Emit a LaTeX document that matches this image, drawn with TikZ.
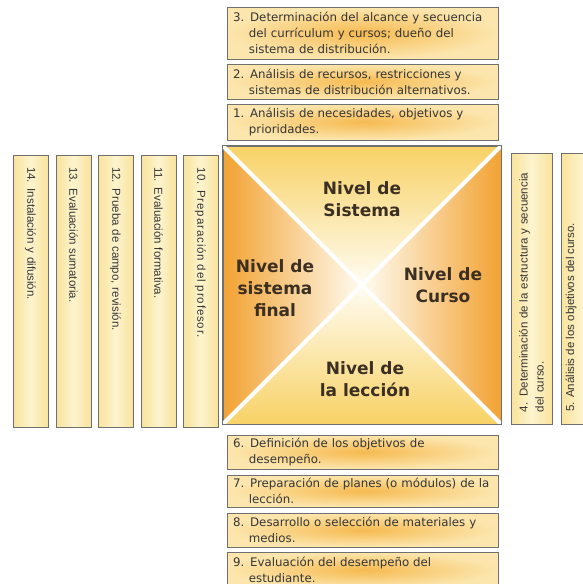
\documentclass[tikz,border=0pt]{standalone}
\usepackage{fontspec}
\setmainfont{DejaVu Sans}
\newfontfamily\arialf{Liberation Sans}
\newfontfamily\arialsp[LetterSpace=7.5]{Liberation Sans}
\definecolor{boxgray}{HTML}{707070}
\definecolor{hinner}{HTML}{F6BA50}
\definecolor{houter}{HTML}{FCE6AE}
\definecolor{vside}{HTML}{F9E39C}
\definecolor{vmid}{HTML}{FDF4CF}
\definecolor{txtgray}{HTML}{353535}
\definecolor{lvltxt}{HTML}{3A2F22}
\definecolor{sqyel}{HTML}{F8D266}
\definecolor{sqorg}{HTML}{F2A232}
\definecolor{sqctr}{HTML}{FFFCF2}
\newcommand\ind{\hspace*{1.35em}}
\begin{document}
\begin{tikzpicture}[x=1pt,y=-1pt,
  hbox/.style={draw=boxgray, line width=0.8pt, inner color=hinner, outer color=houter,
    text width=259pt, inner xsep=6pt, inner ysep=0pt, align=left,
    font=\fontsize{11.8}{16}\selectfont, text=txtgray},
  vbox/.style={draw=boxgray, line width=0.8pt, left color=vside, right color=vside, middle color=vmid,
    font=\arialf\fontsize{11.5}{16}\selectfont, text=txtgray, align=left,
    inner xsep=12pt, inner ysep=0pt},
  lbox/.style={vbox, rotate=-90, minimum height=35pt, text width=248pt},
  lvl/.style={font=\bfseries\fontsize{17}{22}\selectfont, text=lvltxt, align=center}]
\clip (0,0) rectangle (583,584);
\fill[white] (0,0) rectangle (583,584);

% top boxes
\node (b3) [hbox, minimum height=52pt] at (362.5,33) {3. Determinación del alcance y secuencia\\\ind del currículum y cursos; dueño del\\\ind sistema de distribución.};
\node (b2) [hbox, minimum height=35pt] at (362.5,81.5) {2. Análisis de recursos, restricciones y\\\ind sistemas de distribución alternativos.};
\node (b1) [hbox, minimum height=36pt] at (362.5,122) {1. Análisis de necesidades, objetivos y\\\ind prioridades.};

% bottom boxes
\node (b6) [hbox, minimum height=34pt] at (362.5,452) {6. Definición de los objetivos de\\\ind desempeño.};
\node (b7) [hbox, minimum height=32pt] at (362.5,491) {7. Preparación de planes (o módulos) de la\\\ind lección.};
\node (b8) [hbox, minimum height=34pt] at (362.5,530) {8. Desarrollo o selección de materiales y\\\ind medios.};
\node (b9) [hbox, minimum height=36pt] at (362.5,570) {9. Evaluación del desempeño del\\\ind estudiante.};

% left boxes
\node (b14) [lbox] at (30.5,291) {14. Instalación y difusión.};
\node (b13) [lbox] at (73.5,291) {13. Evaluación sumatoria.};
\node (b12) [lbox] at (115.5,291) {12. Prueba de campo, revisión.};
\node (b11) [lbox] at (158.5,291) {11. Evaluación formativa.};
\node (b10) [lbox, font=\arialsp\fontsize{11.5}{16}\selectfont] at (200.5,291) {10. Preparación del profesor.};

% right boxes
\node (b4) [vbox, rotate=90, minimum width=271pt, minimum height=41pt, text width=247pt] at (531.5,288.5) {4. Determinación de la estructura y secuencia\\del curso.};
\node (b5) [vbox, rotate=90, minimum width=271pt, minimum height=44pt] at (583,288.5) {};
\node (t5) [font=\arialf\fontsize{11.5}{16}\selectfont, text=txtgray, rotate=90, anchor=west, inner sep=0pt] at (571,412) {5. Análisis de los objetivos del curso.};

% central square
\coordinate (nw) at (223,146);
\coordinate (ne) at (501,146);
\coordinate (se) at (501,424);
\coordinate (sw) at (223,424);
\coordinate (c) at (362,285);
\shade[top color=sqyel, bottom color=sqctr] (nw) -- (ne) -- (c) -- cycle;
\shade[bottom color=sqyel, top color=sqctr] (sw) -- (se) -- (c) -- cycle;
\shade[left color=sqorg, right color=sqctr] (nw) -- (sw) -- (c) -- cycle;
\shade[right color=sqorg, left color=sqctr] (ne) -- (se) -- (c) -- cycle;
\node (sq) [draw=boxgray, line width=0.9pt, minimum size=278pt, inner sep=0pt] at (c) {};
\draw[white, line width=4pt] (sq.north west) -- (sq.south east);
\draw[white, line width=4pt] (sq.north east) -- (sq.south west);
\draw[boxgray, line width=0.9pt] (sq.north west) rectangle (sq.south east);

\node (ls) [lvl] at (362,199) {Nivel de\\Sistema};
\node (lf) [lvl] at (275,288) {Nivel de\\sistema\\final};
\node (lc) [lvl] at (443,285) {Nivel de\\Curso};
\node (ll) [lvl] at (365,379) {Nivel de\\la lección};
\end{tikzpicture}
\end{document}
